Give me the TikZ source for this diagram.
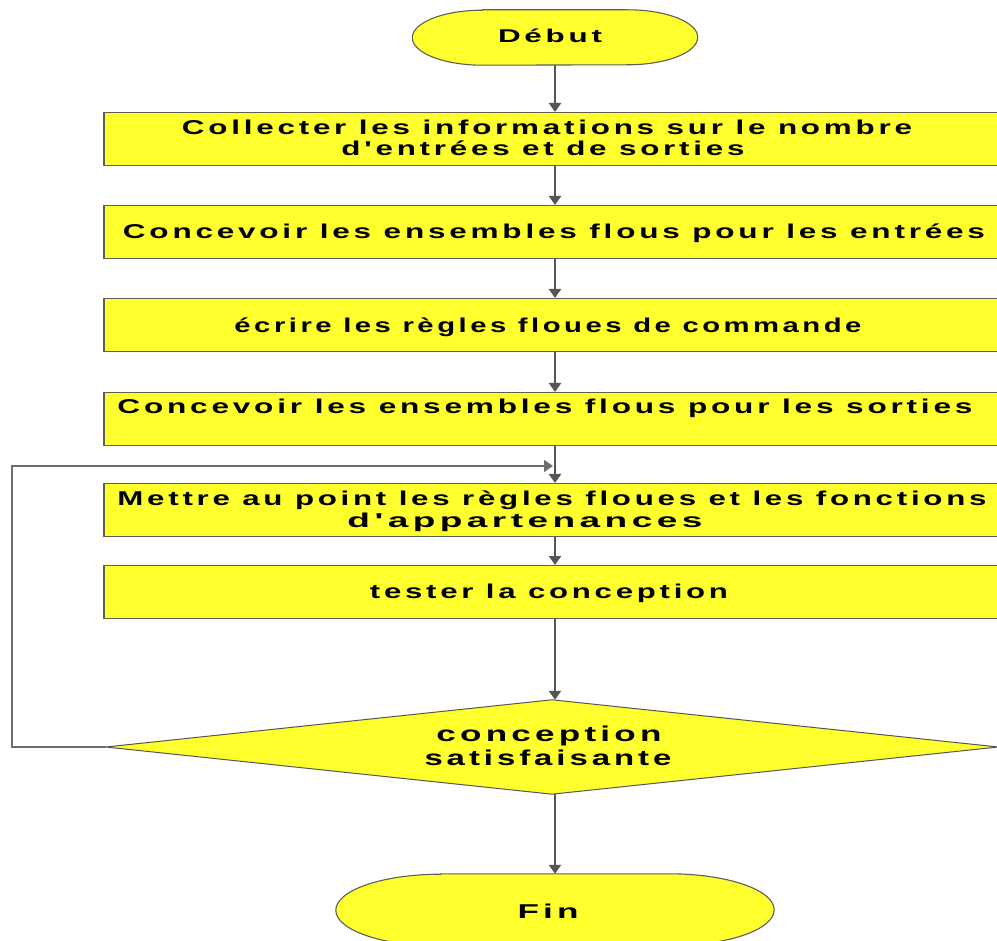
\documentclass[tikz,border=0pt]{standalone}
\usepackage{fontspec}
\setmainfont{Liberation Sans}[LetterSpace=12, Ligatures=TeXOff]
\usepackage{graphicx}
\usetikzlibrary{arrows.meta}

\definecolor{boxyellow}{RGB}{255,255,46}
\definecolor{edgegray}{RGB}{95,95,85}
\definecolor{linkgray}{RGB}{85,85,85}

% stretch a line of text to a given width (in pt), keeping its height
\newcommand{\widetext}[2]{\resizebox{#1pt}{\height}{#2}}

\tikzset{
  stepbox/.style={draw=edgegray, line width=1.3pt, fill=boxyellow,
    minimum width=902pt, minimum height=53pt, inner sep=0pt, anchor=north},
  holder/.style={draw=none, inner sep=0pt},
  termshape/.style={draw=edgegray, line width=1.1pt, fill=boxyellow},
  decshape/.style={draw=linkgray, line width=1pt, fill=boxyellow},
  lbl/.style={anchor=base, inner sep=0pt, text=black,
    font=\bfseries\fontsize{20}{22}\selectfont},
  biglbl/.style={lbl, font=\bfseries\fontsize{21.5}{23}\selectfont},
  termlbl/.style={lbl, font=\bfseries\fontsize{18.5}{20}\selectfont},
  link/.style={draw=linkgray, line width=2.2pt, -{Triangle[width=12pt,length=9pt]}},
  backlink/.style={draw=linkgray!85, line width=1.7pt, -{Triangle[width=12pt,length=9pt]}},
}

\begin{document}
\begin{tikzpicture}[x=1pt, y=-1pt]
  \useasboundingbox (0,0) rectangle (997,941);
  \clip (0,0) rectangle (997,941);

  % terminal: start
  \node[holder, minimum width=285pt, minimum height=55pt] (deb) at (555,37.5) {};
  \draw[termshape] ([xshift=70pt]deb.north west) -- ([xshift=-70pt]deb.north east)
    arc[start angle=90, end angle=-90, x radius=70pt, y radius=27.5pt]
    -- ([xshift=70pt]deb.south west)
    arc[start angle=270, end angle=90, x radius=70pt, y radius=27.5pt] -- cycle;
  \node[termlbl] (tdeb) at (550,43) {\widetext{104}{Début}};

  % process steps
  \node[stepbox] (b1) at (555,112) {};
  \node[stepbox] (b2) at (555,205) {};
  \node[stepbox] (b3) at (555,298) {};
  \node[stepbox] (b4) at (555,392) {};
  \node[stepbox] (b5) at (555,483) {};
  \node[stepbox] (b6) at (555,565) {};

  \node[lbl] (t1a) at (547,135) {\widetext{730}{Collecter les informations sur le nombre}};
  \node[lbl] (t1b) at (543,156) {\widetext{403}{d'entrées et de sorties}};
  \node[lbl] (t2)  at (554,239) {\widetext{862}{Concevoir les ensembles flous pour les entrées}};
  \node[lbl] (t3)  at (548,333) {\widetext{627}{écrire les règles floues de commande}};
  \node[lbl] (t4)  at (545,414) {\widetext{855}{Concevoir les ensembles flous pour les sorties}};
  \node[lbl] (t5a) at (552,505) {\widetext{869}{Mettre au point les règles floues et les fonctions}};
  \node[lbl] (t5b) at (525,527) {\widetext{355}{d'appartenances}};
  \node[lbl] (t6)  at (549,598) {\widetext{358}{tester la conception}};

  % decision
  \node[holder, minimum width=892pt, minimum height=94pt] (dec) at (552,747) {};
  \draw[decshape] (dec.west) -- (dec.north) -- (dec.east) -- (dec.south) -- cycle;
  \node[biglbl] (td1) at (549,741) {\widetext{225}{conception}};
  \node[biglbl] (td2) at (548,765) {\widetext{247}{satisfaisante}};

  % terminal: end
  \node[holder, minimum width=438pt, minimum height=72pt] (fin) at (555,910) {};
  \draw[termshape] ([xshift=105pt]fin.north west) -- ([xshift=-105pt]fin.north east)
    arc[start angle=90, end angle=-90, x radius=105pt, y radius=36pt]
    -- ([xshift=105pt]fin.south west)
    arc[start angle=270, end angle=90, x radius=105pt, y radius=36pt] -- cycle;
  \node[termlbl, font=\bfseries\fontsize{20}{22}\selectfont] (tfin) at (548,918) {\widetext{61}{Fin}};

  % main flow
  \draw[link] (deb.south) -- (b1.north);
  \draw[link] (b1.south) -- (b2.north);
  \draw[link] (b2.south) -- (b3.north);
  \draw[link] (b3.south) -- (b4.north);
  \draw[link] (b4.south) -- (b5.north);
  \draw[link] (b5.south) -- (b6.north);
  \draw[link] (b6.south) -- (b6.south |- dec.north);
  \draw[link] (dec.south -| fin.north) -- (fin.north);

  % feedback loop
  \coordinate (lp) at (12,466);
  \coordinate (join) at (555,466);
  \draw[backlink, shorten >=2pt] (dec.west) -| (lp) -- (join);
\end{tikzpicture}
\end{document}
